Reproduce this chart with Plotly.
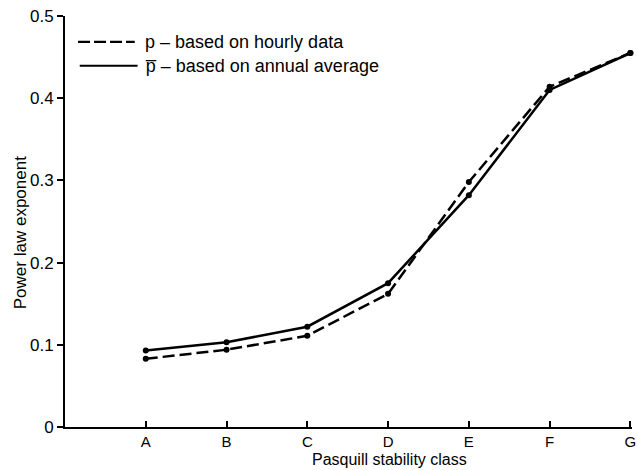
import plotly.graph_objects as go

classes = ["A", "B", "C", "D", "E", "F", "G"]
class_pos = [1, 2, 3, 4, 5, 6, 7]
p_hourly = [0.083, 0.094, 0.111, 0.162, 0.298, 0.414, 0.455]
p_annual = [0.093, 0.103, 0.122, 0.175, 0.282, 0.410, 0.455]
y_ticks = [0, 0.1, 0.2, 0.3, 0.4, 0.5]
y_ticklabels = ["0", "0.1", "0.2", "0.3", "0.4", "0.5"]

FONT = "Liberation Sans, Arial, sans-serif"

fig = go.Figure()
fig.add_trace(go.Scatter(
    x=class_pos, y=p_hourly, mode="lines+markers", cliponaxis=False,
    line=dict(color="black", width=2.5, dash="12px,5px"),
    marker=dict(color="black", size=6), showlegend=False))
fig.add_trace(go.Scatter(
    x=class_pos, y=p_annual, mode="lines+markers", cliponaxis=False,
    line=dict(color="black", width=2.5),
    marker=dict(color="black", size=6), showlegend=False))

# legend drawn manually
fig.add_shape(type="line", xref="paper", yref="paper", x0=0.023, x1=0.123, y0=0.937, y1=0.937,
              line=dict(color="black", width=2.2, dash="12px,4px"))
fig.add_shape(type="line", xref="paper", yref="paper", x0=0.026, x1=0.128, y0=0.879, y1=0.879,
              line=dict(color="black", width=2.2))
fig.add_annotation(xref="paper", yref="paper", x=0.137, y=0.937, xanchor="left", yanchor="middle",
                   text="p – based on hourly data", showarrow=False,
                   font=dict(family=FONT, size=18, color="black"))
fig.add_annotation(xref="paper", yref="paper", x=0.137, y=0.879, xanchor="left", yanchor="middle",
                   text="p\u0305 – based on annual average", showarrow=False,
                   font=dict(family=FONT, size=18, color="black"))
# x axis title centred under D
fig.add_annotation(xref="paper", yref="paper", x=4 / 7, y=-0.103, xanchor="center", yanchor="bottom",
                   text="Pasquill stability class", showarrow=False, borderpad=0,
                   font=dict(family=FONT, size=16, color="black"))
# y axis title
fig.add_annotation(xref="paper", yref="paper", x=-0.079, y=0.472, xanchor="center", yanchor="middle",
                   text="Power law exponent", showarrow=False, textangle=-90,
                   font=dict(family=FONT, size=17, color="black"))

fig.update_layout(
    width=638, height=470,
    margin=dict(l=65, r=6, t=16, b=43),
    paper_bgcolor="white", plot_bgcolor="white",
    font=dict(family=FONT, size=17, color="black"),
    xaxis=dict(range=[0, 7.02], tickmode="array", tickvals=class_pos, ticktext=classes,
               automargin=False, ticklabeloverflow="allow", tickfont=dict(size=15),
               showgrid=False, zeroline=False, showline=True, linecolor="black", linewidth=2,
               ticks="inside", ticklen=6, tickwidth=1.5, tickcolor="black"),
    yaxis=dict(range=[0, 0.5], tickmode="array", tickvals=y_ticks, ticktext=y_ticklabels,
               automargin=False, ticklabeloverflow="allow",
               showgrid=False, zeroline=False, showline=True, linecolor="black", linewidth=2,
               ticks="outside", ticklen=6, tickwidth=1.5, tickcolor="black"),
)

fig.write_html(
    "out.html",
    config={"displayModeBar": False},
    post_script="document.body.style.margin='0';document.body.style.overflow='hidden';",
)
